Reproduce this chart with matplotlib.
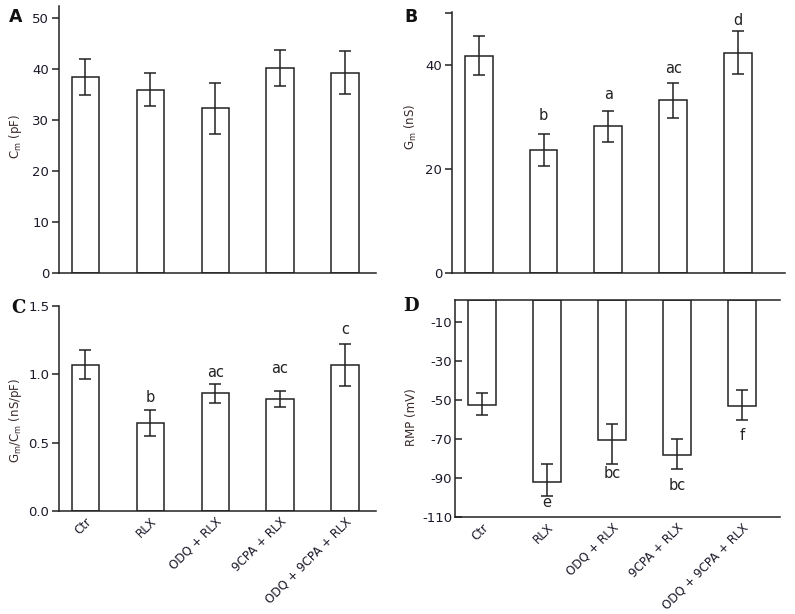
import matplotlib
matplotlib.use("Agg")
import matplotlib.pyplot as plt
import numpy as np

plt.rcParams['font.family'] = ['DejaVu Sans']
plt.rcParams['mathtext.fontset'] = 'dejavusans'
plt.rcParams['axes.unicode_minus'] = False

categories = ["Ctr", "RLX", "ODQ + RLX", "9CPA + RLX", "ODQ + 9CPA + RLX"]

cm_vals = [38.5, 36.0, 32.3, 40.2, 39.3]
cm_err = [3.5, 3.2, 5.0, 3.5, 4.2]

gm_vals = [41.8, 23.6, 28.2, 33.2, 42.4]
gm_err = [3.7, 3.1, 3.0, 3.4, 4.1]
gm_letters = ["", "b", "a", "ac", "d"]
gm_letter_y = [0, 30.3, 34.3, 39.3, 48.6]

ratio_vals = [1.07, 0.645, 0.86, 0.82, 1.07]
ratio_err = [0.105, 0.095, 0.067, 0.058, 0.155]
ratio_letters = ["", "b", "ac", "ac", "c"]
ratio_letter_y = [0, 0.834, 1.015, 1.04, 1.329]

rmp_vals = [-52.7, -91.8, -70.2, -78.3, -53.2]
rmp_err_up = [6.2, 8.8, 7.9, 8.2, 8.7]
rmp_err_down = [4.8, 7.2, 12.7, 6.8, 7.2]
rmp_letters = ["", "e", "bc", "bc", "f"]
rmp_letter_y = [0, -102.8, -87.7, -94.0, -68.0]

W, H = 795, 614
fig = plt.figure(figsize=(W / 100, H / 100), dpi=100)

def ax_px(l, r, t, b):
    return fig.add_axes([l / W, (H - b) / H, (r - l) / W, (b - t) / H])

dark = '#1a1a2a'
lw = 1.1
x = np.arange(len(categories))

def style(ax, direction='out'):
    for s in ['top', 'right']:
        ax.spines[s].set_visible(False)
    for s in ['left', 'bottom']:
        ax.spines[s].set_linewidth(lw)
        ax.spines[s].set_color('#222222')
    ax.tick_params(axis='y', direction=direction, length=5, width=lw,
                   labelsize=9.5, colors='#222222', labelcolor=dark, pad=2)
    ax.tick_params(axis='x', length=0)

def bars(ax, vals, err, width, bottom=0):
    heights = [v - bottom for v in vals]
    ax.bar(x, heights, width=width, bottom=bottom, color='white',
           edgecolor='#222222', linewidth=lw, zorder=2)
    ax.errorbar(x, vals, yerr=err, fmt='none', ecolor='#222222',
                elinewidth=lw, capsize=4.5, capthick=lw, zorder=3)

def xlabels(ax):
    ax.set_xticks(x)
    ax.set_xticklabels(categories, rotation=45, ha='right', rotation_mode='anchor',
                       fontsize=8.6, color=dark)
    ax.tick_params(axis='x', pad=3)
    for lab in ax.get_xticklabels():
        lab.set_x(lab.get_position()[0])

# Panel A
axA = ax_px(59, 376, 6, 273)
bars(axA, cm_vals, cm_err, 0.42)
axA.set_ylim(0, 52.4)
axA.set_xlim(-0.408, 4.478)
axA.set_yticks([0, 10, 20, 30, 40, 50])
axA.set_xticks([])
style(axA)

# Panel B
axB = ax_px(452, 785, 12, 273)
bars(axB, gm_vals, gm_err, 0.43)
axB.set_ylim(0, 50.2)
axB.set_xlim(-0.412, 4.726)
axB.set_yticks([0, 20, 40, 50])
axB.set_yticklabels(['0', '20', '40', ''])
axB.set_xticks([])
style(axB)
for i in range(len(categories)):
    if gm_letters[i]:
        axB.text(x[i], gm_letter_y[i], gm_letters[i], ha='center', va='center',
                 fontsize=10.5, color='#222222')

# Panel C
axC = ax_px(59, 376, 306, 511)
bars(axC, ratio_vals, ratio_err, 0.42)
axC.set_ylim(0, 1.5)
axC.set_xlim(-0.408, 4.478)
axC.set_yticks([0.0, 0.5, 1.0, 1.5])
axC.set_yticklabels(['0.0', '0.5', '1.0', '1.5'])
style(axC)
xlabels(axC)
for i in range(len(categories)):
    if ratio_letters[i]:
        axC.text(x[i], ratio_letter_y[i], ratio_letters[i], ha='center', va='center',
                 fontsize=10.5, color='#222222')

# Panel D
axD = ax_px(455, 780, 300, 517)
topD = 1.5
axD.bar(x, [v - topD for v in rmp_vals], width=0.43, bottom=topD, color='white',
        edgecolor='#222222', linewidth=lw, zorder=2)
axD.errorbar(x, rmp_vals, yerr=[rmp_err_down, rmp_err_up], fmt='none',
             ecolor='#222222', elinewidth=lw, capsize=4.5, capthick=lw, zorder=3)
axD.set_ylim(-110, topD)
axD.set_xlim(-0.415, 4.585)
axD.set_yticks([-10, -30, -50, -70, -90, -110])
style(axD, direction='in')
xlabels(axD)
axD.spines['top'].set_visible(True)
axD.spines['top'].set_linewidth(lw)
axD.spines['top'].set_color('#222222')
for i in range(len(categories)):
    if rmp_letters[i]:
        axD.text(x[i], rmp_letter_y[i], rmp_letters[i], ha='center', va='center',
                 fontsize=10.5, color='#222222')

# Y labels
fig.text(16 / W, 1 - 137 / H, r'C$_\mathrm{m}$ (pF)', rotation=90, ha='center',
         va='center', fontsize=8.5, color='#3a2a2a')
fig.text(411 / W, 1 - 127 / H, r'G$_\mathrm{m}$ (nS)', rotation=90, ha='center',
         va='center', fontsize=8.5, color='#3a2a2a')
fig.text(16 / W, 1 - 420 / H, r'G$_\mathrm{m}$/C$_\mathrm{m}$ (nS/pF)', rotation=90,
         ha='center', va='center', fontsize=8.5, color='#3a2a2a')
fig.text(411 / W, 1 - 417 / H, 'RMP (mV)', rotation=90, ha='center',
         va='center', fontsize=8.5, color='#3a2a2a')

# Panel letters
fig.text(16 / W, 1 - 17 / H, 'A', ha='center', va='center', fontsize=12.5,
         fontweight='bold', color='#111111')
fig.text(411 / W, 1 - 17 / H, 'B', ha='center', va='center', fontsize=12.5,
         fontweight='bold', color='#111111')
fig.text(18 / W, 1 - 308 / H, 'C', ha='center', va='center', fontsize=13,
         fontweight='bold', family='DejaVu Serif', color='#111111')
fig.text(411 / W, 1 - 306 / H, 'D', ha='center', va='center', fontsize=13,
         fontweight='bold', family='DejaVu Serif', color='#111111')

fig.savefig('out.png', dpi=100)
